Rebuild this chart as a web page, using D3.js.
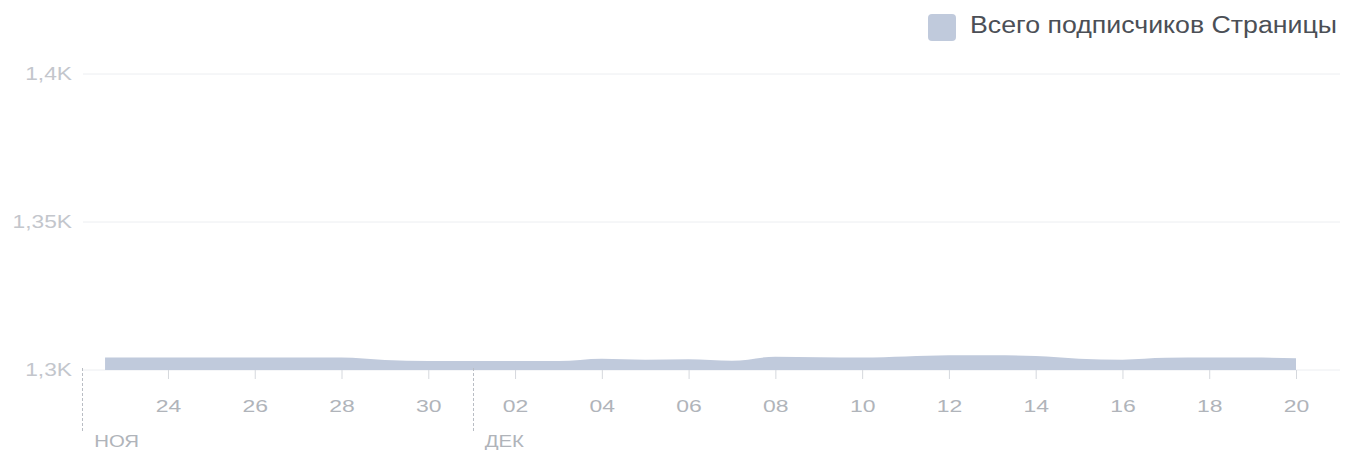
<!DOCTYPE html>
<html>
<head>
<meta charset="utf-8">
<style>
  body { margin: 0; background: #fff; }
  svg text { font-family: "Liberation Sans", Arial, sans-serif; }
</style>
<script src="https://d3js.org/d3.v7.min.js"></script>
</head>
<body>
<svg width="1345" height="452"></svg>
<script>
// day index: 0 = 22 Nov
var days = [0.55, 1, 2, 3, 4, 5, 6, 7, 8, 9, 10, 11, 12, 13, 14, 15, 16, 17, 18, 19, 20, 21, 22, 23, 24, 25, 26, 27, 28];
var followers = [1304.2, 1304.2, 1304.2, 1304.2, 1304.2, 1304.2, 1304.2, 1303.4, 1303, 1303, 1303, 1303, 1303.8, 1303.5, 1303.6, 1303.1, 1304.5, 1304.3, 1304.2, 1304.6, 1305, 1305, 1304.7, 1303.8, 1303.5, 1304.1, 1304.2, 1304.2, 1304];

var tickDays = [2, 4, 6, 8, 10, 12, 14, 16, 18, 20, 22, 24, 26, 28];
var tickLabels = ["24", "26", "28", "30", "02", "04", "06", "08", "10", "12", "14", "16", "18", "20"];
var monthDays = [0, 9];
var monthLabels = ["НОЯ", "ДЕК"];
var yTicks = [1300, 1350, 1400];
var yTickLabels = ["1,3K", "1,35K", "1,4K"];
var seriesName = "Всего подписчиков Страницы";

var svg = d3.select("svg");
var x = d3.scaleLinear().domain([0, 28]).range([81.2, 1296]);
var y = d3.scaleLinear().domain([1300, 1400]).range([370, 74]);
var areaColor = "#c0cadc";

// gridlines
svg.append("g")
  .selectAll("line")
  .data(yTicks)
  .enter()
  .append("line")
  .attr("x1", 83)
  .attr("x2", 1340)
  .attr("y1", function (d) { return y(d); })
  .attr("y2", function (d) { return y(d); })
  .style("stroke", "#eceef1")
  .style("stroke-width", 1);

// y labels (the picture's text is wide, so stretch horizontally)
var yAxis = svg.append("g")
  .attr("transform", "translate(72,0)")
  .call(d3.axisLeft(y).tickValues(yTicks).tickSize(0).tickPadding(0)
    .tickFormat(function (d, i) { return yTickLabels[i]; }));
yAxis.select(".domain").remove();
yAxis.selectAll("text")
  .attr("transform", "scale(1.3,1)")
  .style("font-size", "17.5px")
  .style("fill", "#c3c6cc");

// area
var area = d3.area()
  .x(function (d, i) { return x(days[i]); })
  .y0(y(1300))
  .y1(function (d) { return y(d); })
  .curve(d3.curveMonotoneX);

svg.append("path")
  .datum(followers)
  .attr("d", area)
  .style("fill", areaColor);

// x axis
var xAxis = svg.append("g")
  .attr("transform", "translate(0," + y(1300) + ")")
  .call(d3.axisBottom(x).tickValues(tickDays).tickSize(9).tickPadding(21)
    .tickFormat(function (d, i) { return tickLabels[i]; }));
xAxis.select(".domain").remove();
xAxis.selectAll("line").style("stroke", "#d5d8dd");
xAxis.selectAll("text")
  .attr("transform", "scale(1.35,1)")
  .style("font-size", "17px")
  .style("fill", "#b0b4ba");

// month separators
var months = svg.append("g");
months.selectAll("line")
  .data(monthDays)
  .enter()
  .append("line")
  .attr("x1", function (d) { return Math.round(x(d)) + 1.5; })
  .attr("x2", function (d) { return Math.round(x(d)) + 1.5; })
  .attr("y1", 368)
  .attr("y2", 431)
  .style("stroke", "#b9bdc4")
  .style("stroke-dasharray", "3,2");
months.selectAll("text")
  .data(monthDays)
  .enter()
  .append("text")
  .attr("transform", function (d) { return "translate(" + (x(d) + 13) + ",447) scale(1.2,1)"; })
  .style("font-size", "17px")
  .style("fill", "#b0b4ba")
  .text(function (d, i) { return monthLabels[i]; });

// legend
var legend = svg.append("g");
legend.append("rect")
  .attr("x", 928)
  .attr("y", 14)
  .attr("width", 28)
  .attr("height", 27)
  .attr("rx", 4)
  .style("fill", areaColor);
legend.append("text")
  .attr("x", 970)
  .attr("y", 33)
  .attr("textLength", 367)
  .attr("lengthAdjust", "spacingAndGlyphs")
  .style("font-size", "23.5px")
  .style("fill", "#4b4f56")
  .text(seriesName);
</script>
</body>
</html>
